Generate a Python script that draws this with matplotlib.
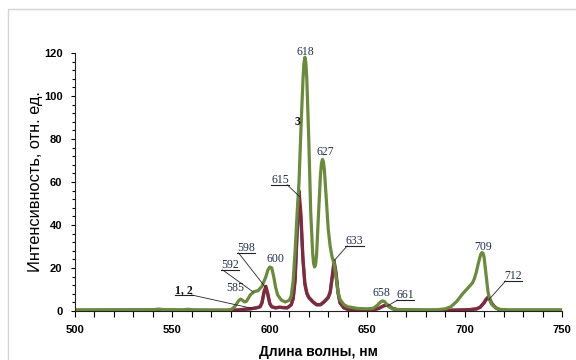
import matplotlib
matplotlib.use("Agg")
import matplotlib.pyplot as plt
from matplotlib.patches import Rectangle
from matplotlib.lines import Line2D
from matplotlib.ticker import MultipleLocator

# Emission spectra: wavelength (nm) and intensity (rel. units)
wl_3 = [500, 510, 520, 530, 540, 543, 546, 555, 558, 561, 570, 578, 580, 582, 584, 585,
        586, 587, 588, 590, 592, 594, 596, 598, 599, 600, 601, 602, 603, 604, 606, 608, 610,
        611, 612, 613, 614, 615, 616, 617, 617.5, 618, 618.5, 619, 620, 621, 622, 622.5, 623,
        623.5, 624, 625, 626, 626.5, 627, 627.5, 628, 629, 630, 631, 632, 633, 634, 635, 636,
        638, 640, 645, 650, 653, 655, 657, 658, 659, 661, 663, 666, 675, 685, 690, 693, 696,
        699, 702, 704, 705, 706, 707, 708, 708.5, 709, 709.5, 710, 711, 712, 713, 714, 716,
        718, 722, 735, 750]
int_3 = [0.5, 0.5, 0.5, 0.5, 0.6, 0.9, 0.6, 0.5, 0.8, 0.5, 0.4, 0.4, 0.6, 2.0, 4.8, 5.5,
         5.0, 4.2, 4.5, 7.5, 9.0, 9.5, 11.5, 16.0, 19.0, 20.5, 20.0, 16.0, 11.0, 7.5, 5.0, 4.2, 5.0,
         7.0, 14.0, 28.0, 45.0, 60.0, 85.0, 107.0, 115.0, 118.0, 115.5, 108.0, 80.0, 46.0, 27.0, 22.0, 20.5,
         21.5, 26.0, 45.0, 63.0, 68.5, 70.5, 69.5, 66.0, 52.0, 38.0, 30.0, 25.0, 22.0, 16.0, 9.0, 5.5,
         3.0, 2.0, 1.2, 1.0, 1.2, 2.5, 4.3, 4.7, 4.3, 2.0, 1.0, 0.6, 0.5, 0.5, 1.0, 2.0, 4.5,
         8.0, 11.0, 13.0, 15.0, 18.0, 22.0, 25.5, 26.8, 27.2, 26.8, 25.0, 17.0, 9.0, 5.0, 3.0, 1.5,
         0.8, 0.5, 0.5, 0.5]

wl_12 = [500, 540, 560, 580, 584, 587, 590, 593, 595, 596, 597, 598, 599, 600, 601, 603,
         605, 607, 609, 611, 612, 613, 614, 615, 616, 617, 618, 619, 620, 622, 624, 626,
         628, 630, 631, 632, 633, 634, 635, 636, 638, 640, 645, 650, 654, 656, 658, 660,
         661, 663, 666, 680, 695, 702, 706, 708, 710, 711, 712, 713, 714, 716, 718, 722, 750]
int_1 = [0.3, 0.4, 0.3, 0.3, 0.5, 0.8, 1.0, 1.5, 2.0, 4.0, 9.0, 11.5, 8.0, 3.5, 2.0, 1.5,
         1.8, 1.6, 1.5, 3.0, 6.0, 15.0, 38.0, 56.0, 45.0, 25.0, 13.0, 8.5, 6.5, 4.5, 3.0, 3.0,
         4.5, 6.5, 9.0, 16.0, 23.5, 18.0, 9.0, 4.0, 1.5, 0.8, 0.5, 0.5, 0.7, 1.3, 2.3, 3.0,
         2.6, 1.2, 0.5, 0.3, 0.4, 0.6, 1.0, 1.8, 4.0, 5.5, 6.5, 5.5, 3.5, 1.5, 0.6, 0.3, 0.3]
int_2 = [0.3, 0.4, 0.3, 0.3, 0.5, 0.8, 1.0, 1.4, 1.9, 3.7, 8.3, 10.5, 7.4, 3.3, 1.9, 1.4,
         1.7, 1.5, 1.4, 2.8, 5.6, 14.0, 35.0, 52.0, 42.0, 23.5, 12.2, 8.0, 6.1, 4.2, 2.8, 2.8,
         4.2, 6.1, 8.4, 15.0, 22.0, 17.0, 8.4, 3.7, 1.4, 0.8, 0.5, 0.5, 0.7, 1.2, 2.1, 2.8,
         2.4, 1.1, 0.5, 0.3, 0.4, 0.6, 0.9, 1.7, 3.7, 5.1, 6.0, 5.1, 3.2, 1.4, 0.6, 0.3, 0.3]

# Peak labels: (text, text x nm, text y, underlined, leader target nm, leader target y, leader side)
peak_labels = [
    ("618", 618.1, 120.5, False, None, None, None),
    ("627", 628.3, 74.0, False, None, None, None),
    ("615", 605.2, 61.0, True, 615.5, 53.0, "right"),
    ("633", 643.5, 32.6, True, 633.2, 23.6, "left"),
    ("598", 587.8, 29.3, True, 597.6, 11.2, "left"),
    ("592", 579.6, 21.4, True, 591.4, 8.9, "left"),
    ("585", 582.1, 10.7, False, None, None, None),
    ("600", 602.9, 24.2, False, None, None, None),
    ("658", 657.1, 8.4, False, None, None, None),
    ("661", 669.4, 7.4, True, 660.1, 2.2, "left"),
    ("709", 709.4, 29.8, False, None, None, None),
    ("712", 724.8, 16.3, True, 712.5, 5.3, "left"),
]
curve_labels = [
    ("3", 614.0, 87.9, False, None, None, None),
    ("1, 2", 556.0, 9.8, True, 591.0, 1.2, "right"),
]

green = "#6a8a3c"
maroon = "#84283a"
blue = "#3c5c94"

fig = plt.figure(figsize=(5.76, 3.6), dpi=100)
fig.patches.append(Rectangle((8 / 576, -0.1), 1.2, 1 - 9 / 360 + 0.1, transform=fig.transFigure,
                             fill=False, edgecolor="#d4d4d4", linewidth=1.0))
ax = fig.add_axes([75 / 576, 1 - 311 / 360, 487 / 576, 258 / 360])

ax.plot(wl_12, int_2, color=blue, lw=2.3, solid_joinstyle="round")
ax.plot(wl_12, int_1, color=maroon, lw=2.3, solid_joinstyle="round")
ax.plot(wl_3, int_3, color=green, lw=2.3, solid_joinstyle="round")

ax.set_xlim(500, 750)
ax.set_ylim(0, 120)
for s in ("top", "right"):
    ax.spines[s].set_visible(False)
for s in ("left", "bottom"):
    ax.spines[s].set_color("#222222")
    ax.spines[s].set_linewidth(0.8)

ax.xaxis.set_major_locator(MultipleLocator(50))
ax.xaxis.set_minor_locator(MultipleLocator(10))
ax.yaxis.set_major_locator(MultipleLocator(20))
ax.yaxis.set_minor_locator(MultipleLocator(4))
ax.tick_params(axis="x", which="major", direction="out", length=4, width=0.8, pad=6)
ax.tick_params(axis="x", which="minor", direction="out", length=4, width=0.8)
ax.tick_params(axis="y", which="major", direction="out", length=3, width=0.8, pad=6)
ax.tick_params(axis="y", which="minor", direction="out", length=2, width=0.8)
for lab in ax.get_xticklabels() + ax.get_yticklabels():
    lab.set_fontfamily("Liberation Sans")
    lab.set_fontweight("bold")
    lab.set_fontsize(8)

ax.set_ylabel("Интенсивность, отн. ед.", fontfamily="Liberation Sans", fontsize=11.8, va="center")
ax.yaxis.set_label_coords(-0.082, 0.5)
ax.set_xlabel("Длина волны, нм", fontfamily="Liberation Sans", fontsize=10, fontweight="bold",
              va="center")
ax.xaxis.set_label_coords(0.499, -0.159)

texts = []
for txt, tx, ty, ul, px, py, side in peak_labels:
    t = ax.text(tx, ty, txt, ha="center", va="center", fontfamily="Liberation Serif",
                fontsize=8.5, color="#1f2f4f", clip_on=False)
    texts.append((t, ul, px, py, side))
for txt, tx, ty, ul, px, py, side in curve_labels:
    t = ax.text(tx, ty, txt, ha="center", va="center", fontfamily="Liberation Serif",
                fontsize=8.5, fontweight="bold", color="#111111", clip_on=False)
    texts.append((t, ul, px, py, side))

fig.canvas.draw()
renderer = fig.canvas.get_renderer()
inv = fig.transFigure.inverted()
for t, ul, px, py, side in texts:
    if not ul:
        continue
    bb = t.get_window_extent(renderer)
    y_ul = bb.y0 + 1.0
    x0, x1 = bb.x0 - 0.5, bb.x1 + 0.5
    a = inv.transform((x0, y_ul))
    b = inv.transform((x1, y_ul))
    fig.add_artist(Line2D([a[0], b[0]], [a[1], b[1]], transform=fig.transFigure,
                          color="#222222", lw=0.8))
    start = (x0 + 2, y_ul) if side == "left" else (x1 - 2, y_ul)
    s = inv.transform(start)
    e = inv.transform(ax.transData.transform((px, py)))
    fig.add_artist(Line2D([s[0], e[0]], [s[1], e[1]], transform=fig.transFigure,
                          color="#222222", lw=0.6))

fig.savefig("out.png", dpi=100)
